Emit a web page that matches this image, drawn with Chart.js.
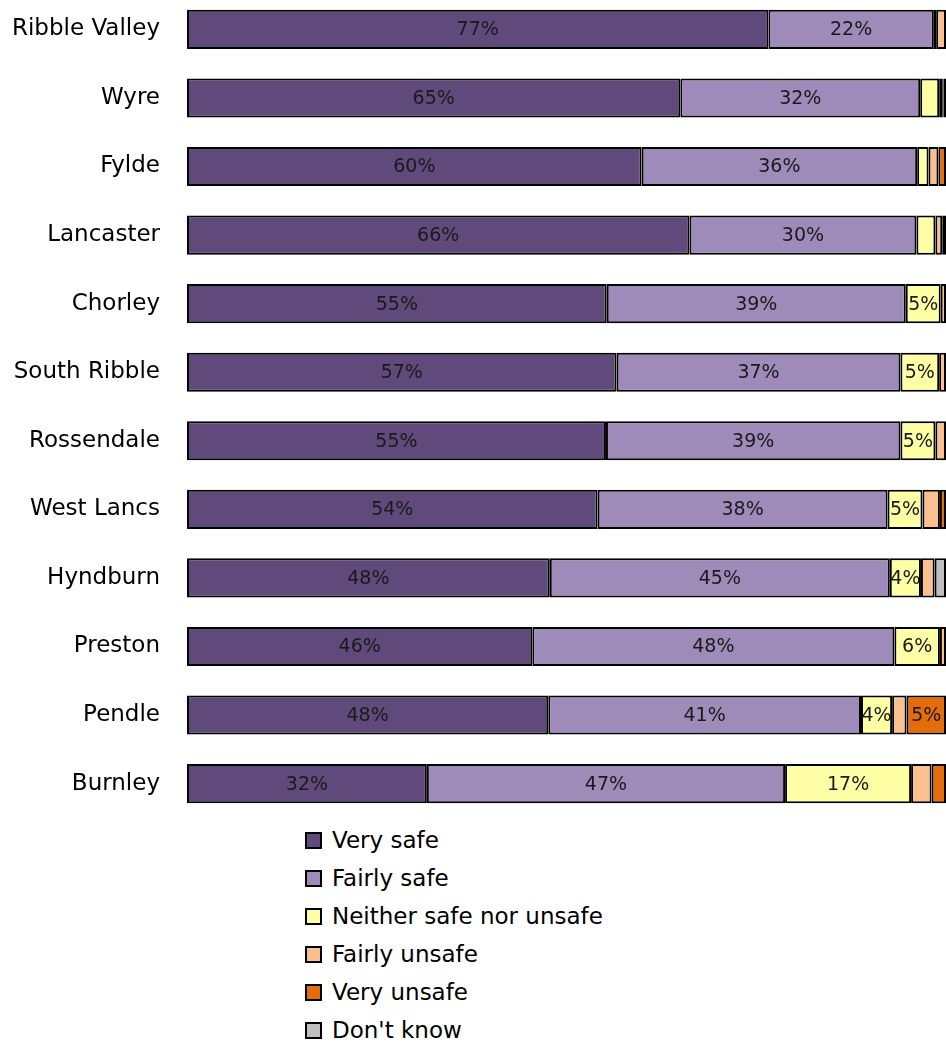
<!DOCTYPE html>
<html>
<head>
<meta charset="utf-8">
<script src="https://cdn.jsdelivr.net/npm/chart.js@4/dist/chart.umd.min.js"></script>
<style>
  body { margin: 0; background: #fff; width: 946px; height: 1043px; overflow: hidden; position: relative; }
  #chart { position: absolute; left: 0; top: -5px; }
  #legend { position: absolute; left: 305px; top: 821px; font-family: "DejaVu Sans", sans-serif; font-size: 23px; color: #000; }
  .item { height: 38px; display: flex; align-items: center; }
  .box { width: 13px; height: 13px; border: 2px solid #000; margin-right: 10px; }
</style>
</head>
<body>
<canvas id="chart" width="946" height="823"></canvas>
<div id="legend"></div>
<script>
const districts = ['Ribble Valley', 'Wyre', 'Fylde', 'Lancaster', 'Chorley', 'South Ribble',
    'Rossendale', 'West Lancs', 'Hyndburn', 'Preston', 'Pendle', 'Burnley'];

const seriesNames = ['Very safe', 'Fairly safe', 'Neither safe nor unsafe', 'Fairly unsafe', 'Very unsafe', "Don't know"];
const seriesColors = ['#604a7b', '#9e8bb9', '#ffffa6', '#fac090', '#e46c0a', '#c0c0c0'];

// percentages per district, same order as districts
const verySafe    = [76.6, 65.0, 59.9, 66.2, 55.3, 56.6, 55.2, 54.1, 47.8, 45.5, 47.6, 31.6];
const fairlySafe  = [21.8, 31.6, 36.3, 29.9, 39.4, 37.4, 38.8, 38.2, 44.8, 47.7, 41.2, 47.2];
const neither     = [0.3, 2.5, 1.5, 2.5, 4.6, 5.1, 4.6, 4.6, 4.1, 6.0, 4.1, 16.6];
const fairlyUnsafe = [1.3, 0.4, 1.3, 0.9, 0.7, 0.9, 1.4, 2.3, 1.8, 0.8, 1.9, 2.7];
const veryUnsafe  = [0, 0.2, 1.0, 0, 0, 0, 0, 0.8, 0, 0, 5.2, 1.9];
const dontKnow    = [0, 0.3, 0, 0.5, 0, 0, 0, 0, 1.5, 0, 0, 0];

const seriesData = [verySafe, fairlySafe, neither, fairlyUnsafe, veryUnsafe, dontKnow];

// draw % labels inside segments that are wide enough
const segmentLabels = {
    id: 'segmentLabels',
    afterDatasetsDraw(chart) {
        const ctx = chart.ctx;
        ctx.save();
        ctx.font = '19px "DejaVu Sans", sans-serif';
        ctx.fillStyle = '#1a1a1a';
        ctx.textAlign = 'center';
        ctx.textBaseline = 'middle';
        chart.data.datasets.forEach((ds, i) => {
            const meta = chart.getDatasetMeta(i);
            meta.data.forEach((bar, j) => {
                const v = ds.data[j];
                if (v < 3.5) return;
                ctx.fillText(Math.round(v) + '%', (bar.x + bar.base) / 2, bar.y + 1);
            });
        });
        ctx.restore();
    }
};

new Chart(document.getElementById('chart').getContext('2d'), {
    type: 'bar',
    data: {
        labels: districts,
        datasets: seriesData.map((d, i) => ({
            label: seriesNames[i],
            data: d,
            backgroundColor: seriesColors[i],
            borderColor: '#000',
            borderWidth: c => (c.raw > 0 ? 2 : 0),
            borderSkipped: false,
            categoryPercentage: 1,
            barPercentage: 0.57
        }))
    },
    options: {
        indexAxis: 'y',
        responsive: false,
        animation: false,
        layout: { padding: 0 },
        plugins: { legend: { display: false }, tooltip: { enabled: false } },
        scales: {
            x: { stacked: true, min: 0, max: 100, display: false },
            y: {
                stacked: true,
                // invisible tick marks give the gap between labels and bars
                grid: { display: true, drawOnChartArea: false, drawTicks: true, tickLength: 27, color: 'rgba(0,0,0,0)' },
                border: { display: false },
                ticks: { color: '#000', padding: 0, font: { family: '"DejaVu Sans", sans-serif', size: 23, lineHeight: 0.01 } },
                afterFit(scale) { scale.width = 187; }
            }
        }
    },
    plugins: [segmentLabels]
});

const legendEl = document.getElementById('legend');
seriesNames.forEach((name, i) => {
    const row = document.createElement('div');
    row.className = 'item';
    const box = document.createElement('span');
    box.className = 'box';
    box.style.background = seriesColors[i];
    row.appendChild(box);
    row.appendChild(document.createTextNode(name));
    legendEl.appendChild(row);
});
</script>
</body>
</html>
